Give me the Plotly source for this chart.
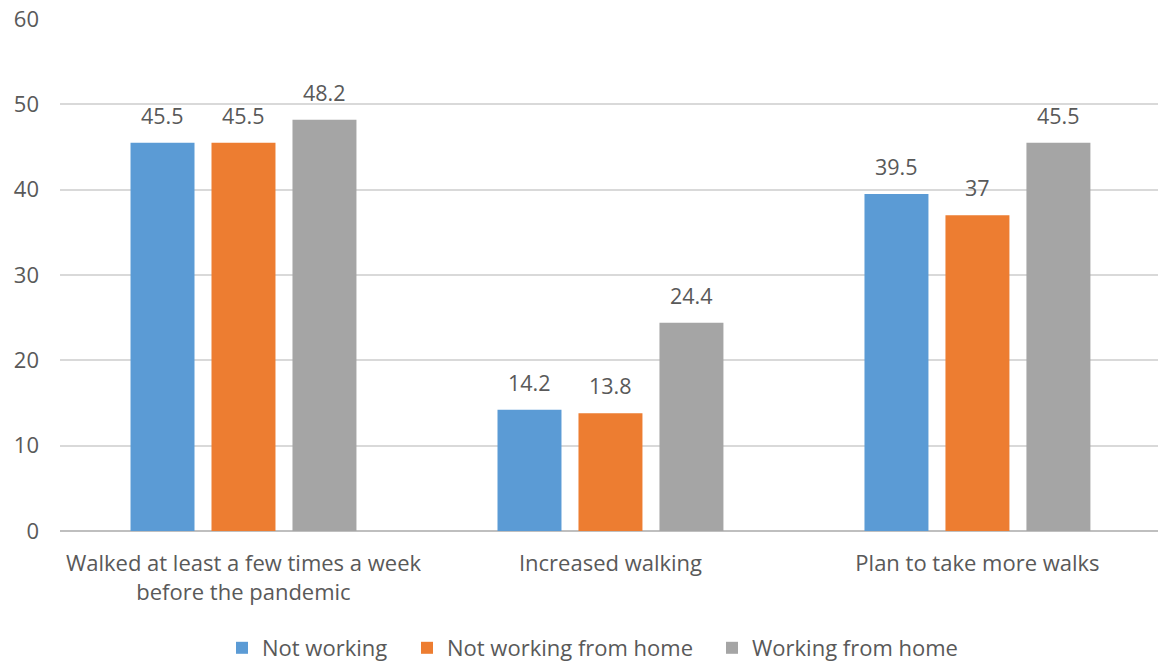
import plotly.graph_objects as go

categories = ["Walked at least a few times a week<br>before the pandemic",
              "Increased walking",
              "Plan to take more walks"]
series_names = ["Not working", "Not working from home", "Working from home"]
not_working = [45.5, 14.2, 39.5]
not_working_home = [45.5, 13.8, 37]
working_home = [48.2, 24.4, 45.5]
colors = ["#5B9BD5", "#ED7D31", "#A5A5A5"]

FONT = "Open Sans"
TXT = "#595959"
FS = 22

fig = go.Figure()
all_vals = [not_working, not_working_home, working_home]
legend_ids = ["legend", "legend2", "legend3"]
legend_text_x = [262, 447, 752]  # px where each legend entry's text starts
for name, vals, c, lg in zip(series_names, all_vals, colors, legend_ids):
    fig.add_trace(go.Bar(name=name, x=categories, y=vals, marker_color=c,
                         marker_line_width=0, legend=lg))

# value labels above bars
slot_px = 81
for i, vals in enumerate(all_vals):
    for cat, v in zip(categories, vals):
        fig.add_annotation(x=cat, y=v, text=f"{v:g}", showarrow=False,
                           xshift=(i - 1) * slot_px, yshift=11, yanchor="bottom",
                           font=dict(family=FONT, size=FS - 0.5, color=TXT))

W, H = 1158, 662
legend_common = dict(orientation="h", xref="container", yref="container",
                     xanchor="left", y=(H - 648) / H, yanchor="middle",
                     font=dict(family=FONT, size=FS, color=TXT), itemwidth=30,
                     bgcolor="rgba(0,0,0,0)")
layout_legends = {}
for lg, tx in zip(legend_ids, legend_text_x):
    layout_legends[lg] = dict(legend_common, x=(tx - 40) / W)

fig.update_layout(
    width=W, height=H,
    margin=dict(l=60, r=0, t=19, b=131, autoexpand=False),
    paper_bgcolor="white", plot_bgcolor="white",
    barmode="group", bargap=0.338, bargroupgap=0.21,
    font=dict(family=FONT, size=FS, color=TXT),
    showlegend=True,
    xaxis=dict(range=[-0.5, 2.492], showgrid=False, showline=False, ticks="",
               ticklabelstandoff=17, automargin=False,
               tickfont=dict(family=FONT, size=FS, color=TXT), fixedrange=True),
    yaxis=dict(range=[0, 60], dtick=10, showgrid=True, gridcolor="#D9D9D9",
               gridwidth=1.5, zeroline=True, zerolinecolor="#BFBFBF", zerolinewidth=1.5,
               showline=False, ticks="", ticklabelstandoff=20, automargin=False,
               tickfont=dict(family=FONT, size=FS, color=TXT)),
    **layout_legends,
)

fig.write_html("out.html")
